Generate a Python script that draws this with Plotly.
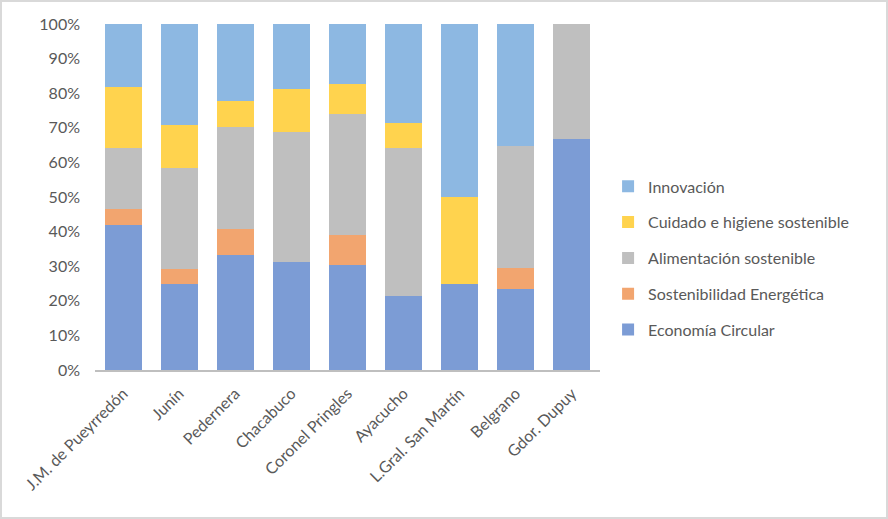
import plotly.graph_objs as go

# datos (porcentaje por partido)
partidos = ['J.M. de Pueyrredón', 'Junín', 'Pedernera', 'Chacabuco', 'Coronel Pringles',
            'Ayacucho', 'L.Gral. San Martín', 'Belgrano', 'Gdor. Dupuy']

economia_circular = [41.9, 25.0, 33.3, 31.25, 30.4, 21.4, 25.0, 23.5, 66.7]
sost_energetica = [4.7, 4.2, 7.4, 0.0, 8.7, 0.0, 0.0, 5.9, 0.0]
alimentacion = [17.7, 29.1, 29.6, 37.5, 34.8, 42.9, 0.0, 35.3, 33.3]
cuidado_higiene = [17.5, 12.5, 7.4, 12.5, 8.7, 7.1, 25.0, 0.0, 0.0]
innovacion = [18.2, 29.2, 22.3, 18.75, 17.4, 28.6, 50.0, 35.3, 0.0]

series = [
    ('Economía Circular', economia_circular, '#7C9CD5'),
    ('Sostenibilidad Energética', sost_energetica, '#F2A56F'),
    ('Alimentación sostenible', alimentacion, '#BFBFBF'),
    ('Cuidado e higiene sostenible', cuidado_higiene, '#FFD34E'),
    ('Innovación', innovacion, '#8DB8E2'),
]

W, H = 888, 519
ml, mr, mt, mb = 95, 288, 24, 149

fig = go.Figure()
for i, (nombre, vals, color) in enumerate(series):
    fig.add_trace(go.Bar(
        x=partidos,
        y=[v / 100 for v in vals],
        name=nombre,
        marker=dict(color=color, line=dict(width=0)),
        legendgroup=str(i),
        legendrank=1000 - i,  # Innovación arriba en la leyenda
    ))

# marco del gráfico
pw = W - ml - mr
ph = H - mt - mb
fig.add_shape(type='rect', xref='paper', yref='paper',
              x0=(1 - ml) / pw, x1=(W - 1 - ml) / pw,
              y0=-(mb - 1) / ph, y1=(H - mb - 1) / ph,
              line=dict(color='#D9D9D9', width=2))

fig.update_layout(
    width=W, height=H,
    barmode='stack',
    bargap=0.34,
    margin=dict(l=ml, r=mr, t=mt, b=mb),
    plot_bgcolor='white',
    paper_bgcolor='white',
    font=dict(family='Lato, Open Sans, sans-serif', size=16, color='#595959'),
    showlegend=True,
    legend=dict(
        tracegroupgap=12,
        x=1.016, y=0.324, xanchor='left', yanchor='middle',
        font=dict(size=16, color='#595959'),
        itemwidth=30,
    ),
    xaxis=dict(
        showline=True, linecolor='#BFBFBF', linewidth=2,
        tickangle=-45, ticks='', showgrid=False,
        ticklabelstandoff=6,
    ),
    yaxis=dict(
        range=[0, 1], dtick=0.1, tickformat='.0%',
        showgrid=False, showline=False, ticks='', zeroline=False,
        ticklabelstandoff=14,
    ),
)

# quitar el margen por defecto del body para que el gráfico ocupe la ventana
fig.write_html('out.html', config={'displayModeBar': False},
               post_script="document.body.style.margin='0px';")
